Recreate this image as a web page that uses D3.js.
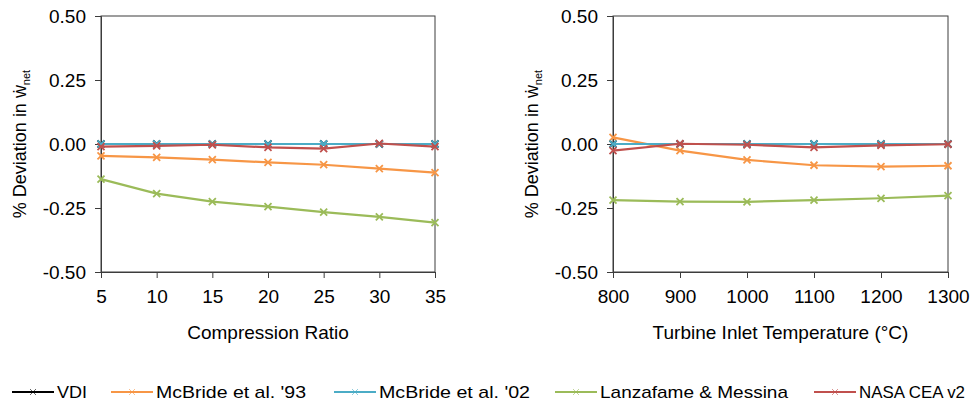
<!DOCTYPE html>
<html>
<head>
<meta charset="utf-8">
<script src="https://cdn.jsdelivr.net/npm/d3@7"></script>
<style>
  body { margin: 0; background: #fff; }
  svg text { font-family: "Liberation Sans", Arial, sans-serif; fill: #000; }
</style>
</head>
<body>
<svg id="chart" width="972" height="404"></svg>
<script>
// series names / colours (legend order = draw order)
var seriesNames = ["VDI", "McBride et al. '93", "McBride et al. '02", "Lanzafame & Messina", "NASA CEA v2"];
var seriesColors = ["#000000", "#f79646", "#4bacc6", "#9bbb59", "#c0504d"];

// left panel: compression ratio
var ratio = [5, 10, 15, 20, 25, 30, 35];
var ratioVDI    = [0, 0, 0, 0, 0, 0, 0];
var ratioMcB93  = [-0.046, -0.052, -0.061, -0.072, -0.081, -0.096, -0.112];
var ratioMcB02  = [0, 0, 0, 0, 0, 0, 0];
var ratioLanz   = [-0.137, -0.194, -0.225, -0.245, -0.266, -0.285, -0.307];
var ratioNASA   = [-0.010, -0.007, -0.003, -0.013, -0.018, 0.002, -0.010];

// right panel: turbine inlet temperature
var tit = [800, 900, 1000, 1100, 1200, 1300];
var titVDI    = [0, 0, 0, 0, 0, 0];
var titMcB93  = [0.026, -0.026, -0.062, -0.083, -0.088, -0.085];
var titMcB02  = [0, 0, 0, 0, 0, 0];
var titLanz   = [-0.219, -0.225, -0.226, -0.219, -0.212, -0.202];
var titNASA   = [-0.026, 0.001, -0.003, -0.013, -0.005, -0.001];

var yTicks = [-0.5, -0.25, 0, 0.25, 0.5];

var svg = d3.select("#chart");

function drawPanel(opts) {
    var x = d3.scaleLinear().domain(opts.xDomain).range([opts.left, opts.right]);
    var y = d3.scaleLinear().domain([-0.5, 0.5]).range([272, 16]);
    var g = svg.append("g");

    // frame
    g.append("rect")
        .attr("x", opts.left).attr("y", 16)
        .attr("width", opts.right - opts.left).attr("height", 256)
        .attr("fill", "none").attr("stroke", "#3c3c3c").attr("stroke-width", 1);

    var yAxis = g.append("g")
        .attr("transform", "translate(" + opts.left + ",0)")
        .call(d3.axisLeft(y).tickValues(yTicks).tickSize(6).tickPadding(9).tickFormat(d3.format(".2f")));
    var xAxis = g.append("g")
        .attr("transform", "translate(0,272)")
        .call(d3.axisBottom(x).tickValues(opts.xTicks).tickSize(6).tickPadding(12).tickFormat(d3.format("d")));
    [yAxis, xAxis].forEach(function(a) {
        a.select(".domain").attr("stroke", "#3c3c3c");
        a.selectAll(".tick line").attr("stroke", "#3c3c3c");
        a.selectAll("text").attr("font-size", 19).attr("font-family", "Liberation Sans, Arial, sans-serif");
    });
    yAxis.selectAll("text").text(function(d) { return d3.format(".2f")(d).replace("−", "-"); });

    // x title
    g.append("text")
        .attr("x", (opts.left + opts.right) / 2).attr("y", 339)
        .attr("text-anchor", "middle").attr("font-size", 19)
        .text(opts.xTitle);

    // y title
    var yt = g.append("text")
        .attr("transform", "translate(" + opts.yTitleX + ",144) rotate(-90)")
        .attr("text-anchor", "middle").attr("font-size", 18);
    yt.append("tspan").text("% Deviation in ẇ");
    yt.append("tspan").attr("font-size", 11).attr("dy", 4).text("net");

    var line = d3.line()
        .x(function(d) { return x(d[0]); })
        .y(function(d) { return y(d[1]); });

    opts.series.forEach(function(vals, i) {
        var pts = opts.xs.map(function(v, j) { return [v, vals[j]]; });
        g.append("path")
            .datum(pts)
            .attr("d", line)
            .attr("fill", "none")
            .attr("stroke", seriesColors[i])
            .attr("stroke-width", 2.2);
        g.selectAll(null)
            .data(pts)
            .enter().append("path")
            .attr("transform", function(d) { return "translate(" + x(d[0]) + "," + y(d[1]) + ")"; })
            .attr("d", "M-3.5,-3.5L3.5,3.5M-3.5,3.5L3.5,-3.5")
            .attr("stroke", seriesColors[i])
            .attr("stroke-width", 1.8)
            .attr("fill", "none");
    });
}

drawPanel({
    left: 101, right: 435,
    xDomain: [5, 35], xTicks: ratio, xs: ratio,
    xTitle: "Compression Ratio", yTitleX: 26,
    series: [ratioVDI, ratioMcB93, ratioMcB02, ratioLanz, ratioNASA]
});

drawPanel({
    left: 613, right: 948,
    xDomain: [800, 1300], xTicks: tit, xs: tit,
    xTitle: "Turbine Inlet Temperature (°C)", yTitleX: 538,
    series: [titVDI, titMcB93, titMcB02, titLanz, titNASA]
});

// legend (Calibri-like narrow text: squeeze each label to the reference width)
var legendX = [12, 111, 334, 555, 814];
var legendTextW = [30, 150, 151, 188, 106];
var leg = svg.append("g");
seriesNames.forEach(function(name, i) {
    var lx = legendX[i];
    leg.append("line")
        .attr("x1", lx).attr("x2", lx + 42)
        .attr("y1", 392).attr("y2", 392)
        .attr("stroke", seriesColors[i]).attr("stroke-width", 2);
    leg.append("path")
        .attr("transform", "translate(" + (lx + 21) + ",392)")
        .attr("d", "M-3,-3L3,3M-3,3L3,-3")
        .attr("stroke", seriesColors[i]).attr("stroke-width", 1).attr("opacity", 0.6);
    leg.append("text")
        .attr("x", lx + 45).attr("y", 398)
        .attr("font-size", 17)
        .attr("textLength", legendTextW[i])
        .attr("lengthAdjust", "spacingAndGlyphs")
        .text(name);
});
</script>
</body>
</html>
